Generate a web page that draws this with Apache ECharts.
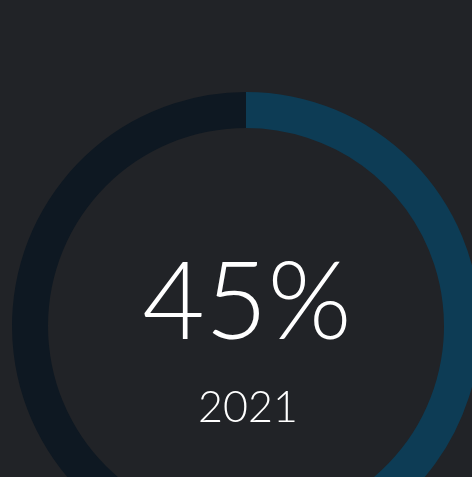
<!DOCTYPE html>
<html>
  <head>
    <meta charset="utf-8" />
    <title>ECharts</title>
    <script src="https://cdn.jsdelivr.net/npm/echarts@6/dist/echarts.min.js"></script>
    <style>
      html, body { margin: 0; padding: 0; background: #212327; }
    </style>
  </head>
  <body>
    <div id="main" style="width: 472px; height: 477px"></div>
    <script type="text/javascript">
      var percent = 45;
      var yearLabel = "2021";
      var ringNames = ["filled", "rest"];
      var ringValues = [percent, 100 - percent];

      var myChart = echarts.init(document.getElementById("main"), null, {
        renderer: "canvas",
      });

      var option = {
        backgroundColor: "#212327",
        animation: false,
        series: [
          {
            type: "pie",
            radius: [198, 234],
            center: [246, 326],
            startAngle: 90,
            clockwise: true,
            silent: true,
            label: { show: false },
            labelLine: { show: false },
            data: [
              { name: ringNames[0], value: ringValues[0], itemStyle: { color: "#0d3c55" } },
              { name: ringNames[1], value: ringValues[1], itemStyle: { color: "#0e1822" } },
            ],
          },
        ],
        graphic: [
          {
            type: "text",
            x: 247,
            y: 304,
            style: {
              text: percent + "%",
              fill: "#ffffff",
              font: "300 108px Lato",
              textAlign: "center",
              textVerticalAlign: "middle",
            },
          },
          {
            type: "text",
            x: 248,
            y: 408,
            style: {
              text: yearLabel,
              fill: "#ffffff",
              font: "300 43px Lato",
              textAlign: "center",
              textVerticalAlign: "middle",
            },
          },
        ],
      };
      myChart.setOption(option);
    </script>
  </body>
</html>
